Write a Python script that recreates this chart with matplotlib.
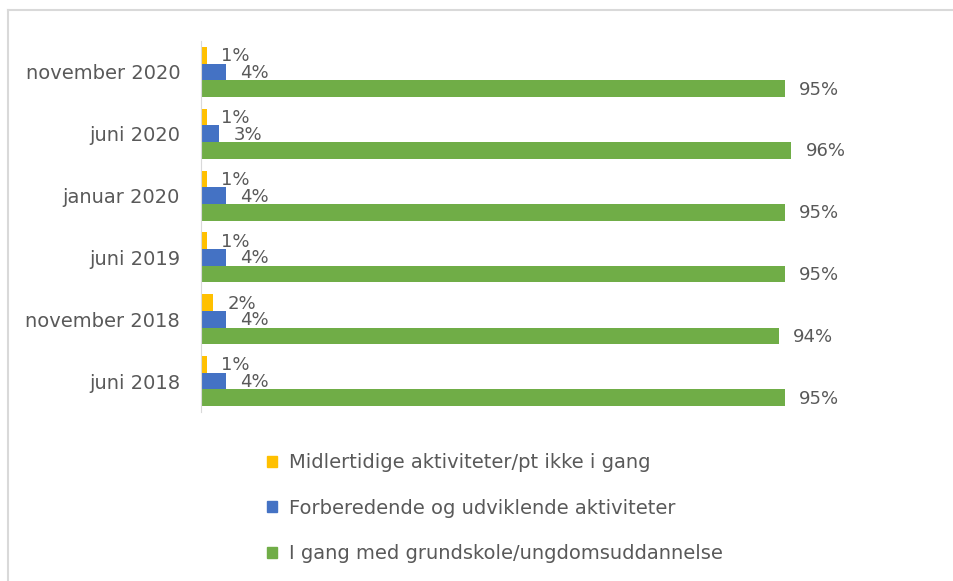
import matplotlib.pyplot as plt
import matplotlib.patches as mpatches
from matplotlib.lines import Line2D
import numpy as np

kategorier = ["november 2020", "juni 2020", "januar 2020", "juni 2019", "november 2018", "juni 2018"]
midlertidige = [1, 1, 1, 1, 2, 1]
forberedende = [4, 3, 4, 4, 4, 4]
i_gang = [95, 96, 95, 95, 94, 95]

serier = ["Midlertidige aktiviteter/pt ikke i gang",
          "Forberedende og udviklende aktiviteter",
          "I gang med grundskole/ungdomsuddannelse"]
farver = ["#FFC000", "#4472C4", "#70AD47"]
tekstfarve = "#595959"

fig = plt.figure(figsize=(9.54, 5.81), dpi=100)
ax = fig.add_axes([201/954, 1 - 412/581, (816 - 201)/954, (412 - 41)/581])

y = np.arange(len(kategorier))
h = 0.27
for k, (vals, col, lab) in enumerate(zip([midlertidige, forberedende, i_gang], farver, serier)):
    rects = ax.barh(y + (k - 1) * h, vals, height=h, color=col, label=lab)
    for r, v in zip(rects, vals):
        ax.annotate('{}%'.format(v), xy=(r.get_width(), r.get_y() + r.get_height()/2),
                    xytext=(14, -1), textcoords="offset pixels",
                    ha='left', va='center', fontsize=13, color=tekstfarve)

ax.set_xlim(0, 100)
ax.set_ylim(len(kategorier) - 0.5, -0.5)
ax.set_yticks(y)
ax.set_yticklabels(kategorier, fontsize=14, color=tekstfarve)
ax.tick_params(axis='y', length=0, pad=15)
ax.set_xticks([])
for s in ['top', 'right', 'bottom']:
    ax.spines[s].set_visible(False)
ax.spines['left'].set_color('#d9d9d9')

handles = [mpatches.Patch(color=c, label=l) for c, l in zip(farver, serier)]
leg = fig.legend(handles=handles, loc='upper left', bbox_to_anchor=(250/954, 1 - 436/581),
                 frameon=False, fontsize=14, handlelength=0.5, handleheight=0.5,
                 handletextpad=0.6, labelspacing=1.35)
for t in leg.get_texts():
    t.set_color(tekstfarve)

# ramme rundt om diagrammet
fig.add_artist(Line2D([8/954, 8/954], [0, 1 - 10/581], color='#d9d9d9', lw=1.5))
fig.add_artist(Line2D([8/954, 1], [1 - 10/581, 1 - 10/581], color='#d9d9d9', lw=1.5))

fig.savefig('out.png', dpi=100)
